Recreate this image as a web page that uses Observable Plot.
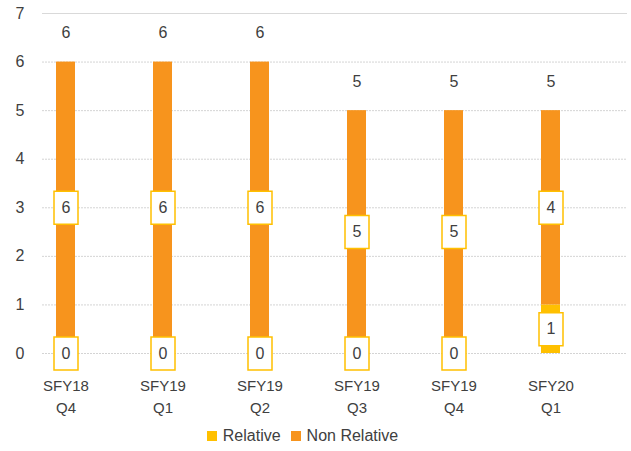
<!DOCTYPE html>
<html><head><meta charset="utf-8">
<script src="https://cdn.jsdelivr.net/npm/d3@7"></script>
<script src="https://cdn.jsdelivr.net/npm/@observablehq/plot@0.6"></script>
<style>
body{margin:0;background:#fff;font-family:"Liberation Sans",Arial,sans-serif;}
#legend{display:flex;justify-content:center;align-items:center;height:31px;font-size:16px;color:#404040;gap:10px;padding-right:26px;}
#legend .item{display:flex;align-items:center;}
#legend .sw{width:10px;height:10px;margin-right:6px;}
</style></head><body><div id="chart"></div><div id="legend"></div>
<script>
const categories = ["SFY18\nQ4","SFY19\nQ1","SFY19\nQ2","SFY19\nQ3","SFY19\nQ4","SFY20\nQ1"];
const relative = [0,0,0,0,0,1];
const nonRelative = [6,6,6,5,5,4];
const seriesNames = ["Relative","Non Relative"];
const seriesColors = ["#FFC000","#F7941D"];
const yTicks = [0,1,2,3,4,5,6,7];

const rows = [];
categories.forEach((c,i)=>{
  rows.push({cat:c, series:seriesNames[0], value:relative[i]});
  rows.push({cat:c, series:seriesNames[1], value:nonRelative[i]});
});
const totals = categories.map((c,i)=>({cat:c, total:relative[i]+nonRelative[i]}));

const boxSymbol = {draw(ctx){ctx.moveTo(-12,-16.5);ctx.lineTo(12,-16.5);ctx.lineTo(12,16.5);ctx.lineTo(-12,16.5);ctx.closePath();}};

const chart = Plot.plot({
  width:631, height:420,
  marginTop:13, marginBottom:67, marginLeft:42, marginRight:4,
  style:{fontFamily:"Liberation Sans, Arial, sans-serif", fontSize:"16px", color:"#404040", background:"#fff"},
  x:{domain:categories, paddingInner:0.805, paddingOuter:0.4025, align:0.178, label:null},
  y:{domain:[0,7], label:null},
  color:{domain:seriesNames, range:seriesColors},
  marks:[
    Plot.ruleY(yTicks.filter(t=>t<7), {stroke:"#d4d4d4", strokeDasharray:"2,1"}),
    Plot.ruleY(yTicks.filter(t=>t===7), {stroke:"#d9d9d9"}),
    Plot.barY(rows, {x:"cat", y:"value", fill:"series"}),
    Plot.dot(rows, Plot.stackY({x:"cat", y:"value", symbol:boxSymbol, r:5, fill:"white", stroke:"#FFC000", strokeWidth:1.5})),
    Plot.text(rows, Plot.stackY({x:"cat", y:"value", text:d=>String(d.value), fill:"#404040", fontSize:16})),
    Plot.text(totals, {x:"cat", y:"total", text:d=>String(d.total), dy:-29, fill:"#404040", fontSize:16}),
    Plot.axisY({ticks:yTicks, tickFormat:d3.format("d"), tickSize:0, tickPadding:18, fontSize:16, fill:"#404040", label:null}),
    Plot.axisX({tickSize:0, tickPadding:22, fontSize:15, lineHeight:1.47, fill:"#404040", label:null})
  ]
});
document.getElementById("chart").appendChild(chart);

const legend = document.getElementById("legend");
seriesNames.forEach((n,i)=>{
  const it = document.createElement("div"); it.className="item";
  const sw = document.createElement("span"); sw.className="sw"; sw.style.background=seriesColors[i];
  const tx = document.createElement("span"); tx.textContent=n;
  it.appendChild(sw); it.appendChild(tx); legend.appendChild(it);
});
</script></body></html>
